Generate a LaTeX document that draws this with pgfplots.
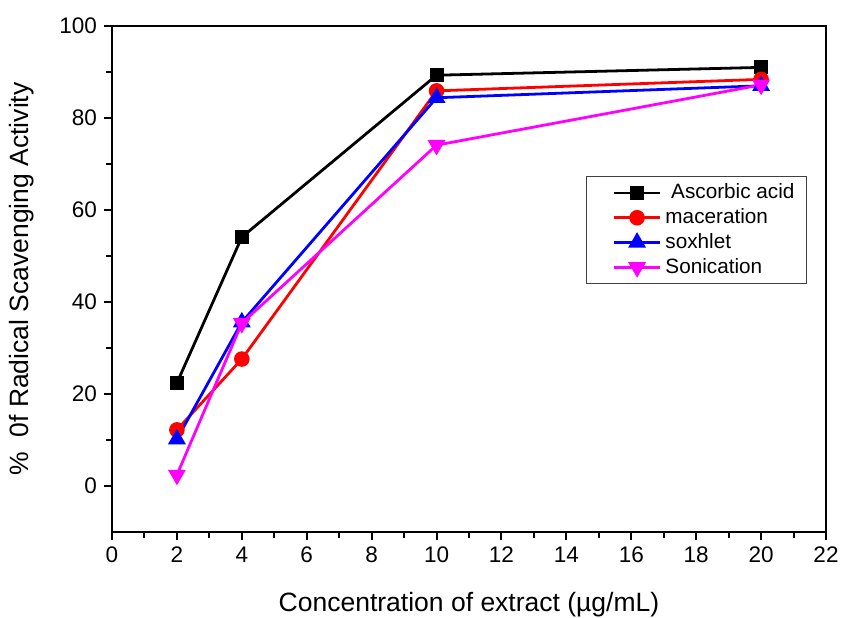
\documentclass[border=0pt]{standalone}
\usepackage{fontspec}
\setmainfont{Liberation Sans}
\usepackage{pgfplots}
\pgfplotsset{compat=1.18}
\definecolor{magentaC}{RGB}{255,0,255}
\begin{document}
\begin{tikzpicture}[x=1bp,y=1bp]
\begin{axis}[
  scale only axis,
  width=357bp, height=253bp,
  xmin=0, xmax=22, ymin=-10, ymax=100,
  xtick={0,2,...,22}, ytick={0,20,...,100},
  minor x tick num=1, minor y tick num=1,
  xtick pos=bottom, ytick pos=left,
  tick align=outside,
  major tick length=4bp, minor tick length=3bp,
  every tick/.style={black, line width=1pt},
  axis line style={line width=1.3pt},
  /pgf/number format/assume math mode=true,
  tick label style={font=\fontsize{11.3}{13}\selectfont},
  label style={font=\fontsize{13.3}{15}\selectfont},
  xlabel={Concentration of extract (µg/mL)},
  ylabel={\%\ \ 0f Radical Scavenging Activity},
  xlabel style={yshift=-8bp},
  ylabel style={yshift=6bp},
  legend style={at={(0.664,0.704)}, anchor=north west, draw=black!75, line width=0.6pt,
    font=\fontsize{10.4}{12}\selectfont, inner xsep=4bp, inner ysep=1.8bp, row sep=-0.6pt,
    legend cell align=left},
  legend image code/.code={
    \path (-9bp,0bp) (23bp,0bp);
    \draw[mark repeat=2,mark phase=2, line width=1.4pt] plot coordinates {(0bp,0bp) (11.5bp,0bp) (23bp,0bp)};
  },
  every axis plot/.append style={line width=1.4pt},
]
\addplot[black, mark=square*, mark size=2.8pt] coordinates {(2,22.4) (4,54.1) (10,89.3) (20,91.0)};
\addlegendentry{\ Ascorbic acid}
\addplot[red, mark=*, mark size=3.2pt] coordinates {(2,12.2) (4,27.6) (10,85.9) (20,88.4)};
\addlegendentry{maceration}
\addplot[blue, mark=triangle*, mark size=3.8pt] coordinates {(2,10.2) (4,35.6) (10,84.4) (20,87.0)};
\addlegendentry{soxhlet}
\addplot[magentaC, mark=triangle*, mark options={rotate=180}, mark size=3.8pt] coordinates {(2,2.4) (4,35.4) (10,74.1) (20,87.2)};
\addlegendentry{Sonication}
\end{axis}
\pgfresetboundingbox
\path ([xshift=-56bp,yshift=-43bp]current axis.south west) rectangle ([xshift=9bp,yshift=13bp]current axis.north east);
\end{tikzpicture}
\end{document}
